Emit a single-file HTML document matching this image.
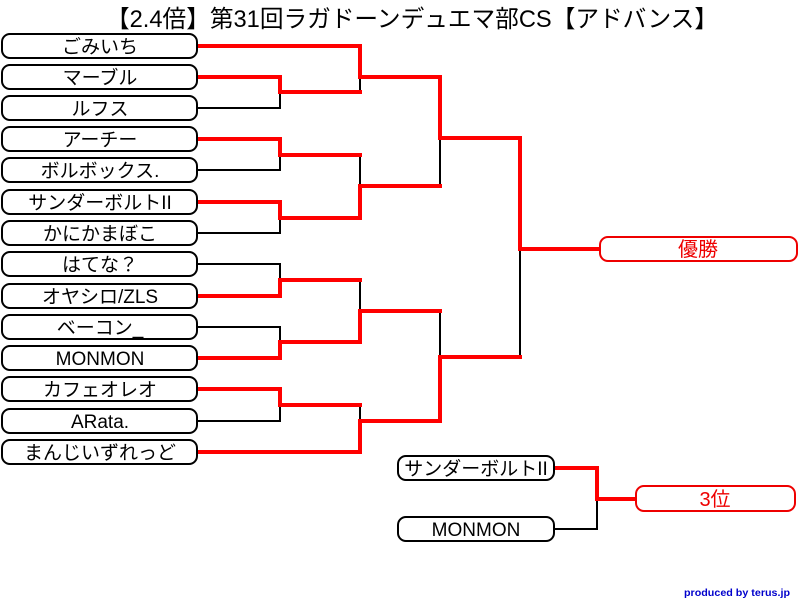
<!DOCTYPE html>
<html><head><meta charset="utf-8"><style>
body{margin:0;background:#fff;}
svg{display:block;font-family:"Liberation Sans","Noto Sans CJK JP",sans-serif;}
</style></head><body>
<svg width="800" height="600" viewBox="0 0 800 600" xmlns="http://www.w3.org/2000/svg">
<rect width="800" height="600" fill="#fff"/>
<text x="412" y="27" font-size="24" text-anchor="middle" textLength="612" lengthAdjust="spacingAndGlyphs" fill="#000">【2.4倍】第31回ラガドーンデュエマ部CS【アドバンス】</text>
<g fill="none" stroke-linecap="square">
<g stroke="#000" stroke-width="2">
<path d="M197 108H280V92"/>
<path d="M360 77V92"/>
<path d="M197 170H280V155"/>
<path d="M197 233H280V218"/>
<path d="M360 155V186"/>
<path d="M440 138V185"/>
<path d="M197 264H280V280"/>
<path d="M197 327H280V342"/>
<path d="M360 280V311"/>
<path d="M197 421H280V405"/>
<path d="M360 405V421"/>
<path d="M440 311V357"/>
<path d="M520 249V357"/>
<path d="M554 529H597V499"/>
</g>
<g stroke="#f00" stroke-width="4">
<path d="M197 46H360V77H440"/>
<path d="M197 77H280V92H360"/>
<path d="M197 139H280V155H360"/>
<path d="M197 202H280V218H360V186H440"/>
<path d="M440 77V138H520V249H600"/>
<path d="M197 296H280V280H360"/>
<path d="M197 358H280V342H360V311H440"/>
<path d="M197 389H280V405H360"/>
<path d="M197 452H360V421H440V357H520"/>
<path d="M554 468H597V499H636"/>
</g>
</g>
<g stroke="#000" stroke-width="2" fill="#fff">
<rect x="2" y="34" width="195" height="24" rx="8"/>
<rect x="2" y="65" width="195" height="24" rx="8"/>
<rect x="2" y="96" width="195" height="24" rx="8"/>
<rect x="2" y="127" width="195" height="24" rx="8"/>
<rect x="2" y="158" width="195" height="24" rx="8"/>
<rect x="2" y="190" width="195" height="24" rx="8"/>
<rect x="2" y="221" width="195" height="24" rx="8"/>
<rect x="2" y="252" width="195" height="24" rx="8"/>
<rect x="2" y="284" width="195" height="24" rx="8"/>
<rect x="2" y="315" width="195" height="24" rx="8"/>
<rect x="2" y="346" width="195" height="24" rx="8"/>
<rect x="2" y="377" width="195" height="24" rx="8"/>
<rect x="2" y="409" width="195" height="24" rx="8"/>
<rect x="2" y="440" width="195" height="24" rx="8"/>
<rect x="398" y="456" width="156" height="24" rx="8"/>
<rect x="398" y="517" width="156" height="24" rx="8"/>
</g>
<g stroke="#e00" stroke-width="2" fill="#fff">
<rect x="600" y="237" width="197" height="24" rx="8"/>
<rect x="636" y="486" width="159" height="25" rx="8"/>
</g>
<g font-size="19" text-anchor="middle" fill="#000">
<text x="100" y="53">ごみいち</text>
<text x="100" y="84">マーブル</text>
<text x="100" y="115">ルフス</text>
<text x="100" y="146">アーチー</text>
<text x="100" y="177">ボルボックス.</text>
<text x="100" y="209">サンダーボルトII</text>
<text x="100" y="240">かにかまぼこ</text>
<text x="100" y="271">はてな？</text>
<text x="100" y="303">オヤシロ/ZLS</text>
<text x="100" y="334">ベーコン_</text>
<text x="100" y="365">MONMON</text>
<text x="100" y="396">カフェオレオ</text>
<text x="100" y="428">ARata.</text>
<text x="100" y="459">まんじいずれっど</text>
<text x="476" y="475">サンダーボルトII</text>
<text x="476" y="536">MONMON</text>
</g>
<g font-size="20" text-anchor="middle" fill="#e00">
<text x="698" y="256">優勝</text>
<text x="715" y="506">3位</text>
</g>
<text x="737" y="596" font-size="10" font-weight="bold" text-anchor="middle" textLength="106" lengthAdjust="spacingAndGlyphs" fill="#00c">produced by terus.jp</text>
</svg>
</body></html>
